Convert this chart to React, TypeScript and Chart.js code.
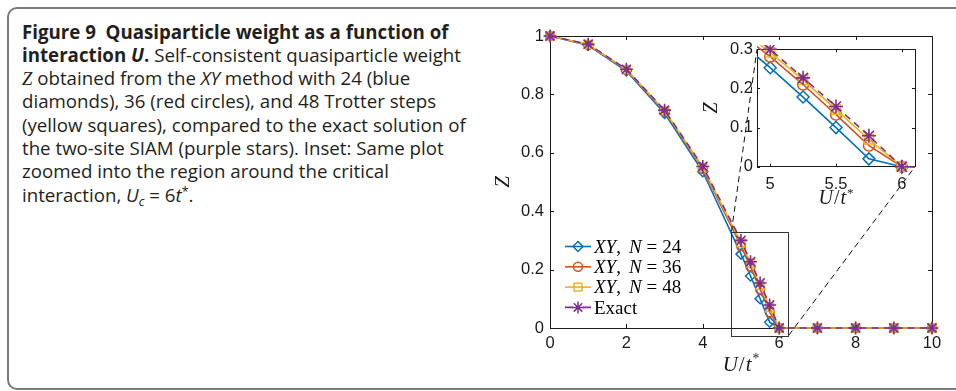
import React, { useEffect, useRef } from "react";
import { Chart, registerables } from "chart.js";
Chart.register(...registerables);

// ---------- data ----------
const U_VALUES = [0, 1, 2, 3, 4, 5, 5.25, 5.5, 5.75, 6, 7, 8, 9, 10];
const Z_N24 = [1, 0.968, 0.88, 0.735, 0.535, 0.253, 0.178, 0.1, 0.02, 0, 0, 0, 0, 0];
const Z_N36 = [1, 0.97, 0.884, 0.742, 0.545, 0.281, 0.21, 0.133, 0.054, 0, 0, 0, 0, 0];
const Z_N48 = [1, 0.971, 0.885, 0.744, 0.55, 0.292, 0.222, 0.146, 0.07, 0, 0, 0, 0, 0];
const Z_EXACT = [1, 0.972, 0.886, 0.746, 0.553, 0.3, 0.227, 0.154, 0.079, 0, 0, 0, 0, 0];

const MAIN_X_TICKS = [0, 2, 4, 6, 8, 10];
const MAIN_Y_TICKS = [0, 0.2, 0.4, 0.6, 0.8, 1];
const INSET_X_TICKS = [5, 5.5, 6];
const INSET_Y_TICKS = [0, 0.1, 0.2, 0.3];
const MAIN_X_RANGE = [0, 10];
const MAIN_Y_RANGE = [0, 1];
const INSET_X_RANGE = [4.9, 6.1];
const INSET_Y_RANGE = [0, 0.3];
const ZOOM_BOX_X = [4.75, 6.25];
const ZOOM_BOX_Y = [-0.025, 0.33];
const LEGEND_N = ["24", "36", "48"];
const LEGEND_EXACT = "Exact";

const BLUE = "#0072BD";
const ORANGE = "#D95319";
const YELLOW = "#EDB120";
const PURPLE = "#7E2F8E";
const AXIS = "#1a1a1a";

const SERIF = "'Liberation Serif', 'DejaVu Serif', serif";
const SANS = "'Liberation Sans', Arial, sans-serif";

// canvas placement
const MAIN_POS = { left: 480, top: 0, width: 476, height: 391 };
const INSET_POS = { left: 690, top: 30, width: 250, height: 190 };

type Seg = { t: string; i?: boolean; sup?: boolean; gap?: number };

function drawRich(ctx: CanvasRenderingContext2D, segs: Seg[], x: number, y: number, size: number, align: "left" | "center") {
  const fontOf = (s: Seg) => `${s.i ? "italic " : ""}${s.sup ? size * 0.65 : size}px ${SERIF}`;
  let total = 0;
  for (const s of segs) {
    ctx.font = fontOf(s);
    total += ctx.measureText(s.t).width + (s.gap || 0);
  }
  let cx = align === "center" ? x - total / 2 : x;
  const base = y + size * 0.33;
  ctx.textAlign = "left";
  ctx.textBaseline = "alphabetic";
  for (const s of segs) {
    ctx.font = fontOf(s);
    cx += s.gap || 0;
    ctx.fillText(s.t, cx, s.sup ? base - size * 0.38 : base);
    cx += ctx.measureText(s.t).width;
  }
}

const U_T_LABEL: Seg[] = [{ t: "U", i: true }, { t: "/", gap: 1 }, { t: "t", i: true, gap: 1 }, { t: "*", sup: true, gap: 1 }];

function framePlugin(tickLen: number, whiteBg: boolean, xTitleOffset: number, yTitleOffset: number, titleSize: number) {
  return {
    id: "frame",
    beforeDatasetsDraw(chart: any) {
      const { ctx, chartArea: a, scales } = chart;
      ctx.save();
      if (whiteBg) {
        ctx.fillStyle = "#ffffff";
        ctx.fillRect(a.left, a.top, a.right - a.left, a.bottom - a.top);
      }
      ctx.strokeStyle = AXIS;
      ctx.lineWidth = 1;
      ctx.strokeRect(Math.round(a.left) + 0.5, Math.round(a.top) + 0.5, Math.round(a.right - a.left), Math.round(a.bottom - a.top));
      ctx.beginPath();
      for (const t of scales.x.ticks) {
        const px = Math.round(scales.x.getPixelForValue(t.value)) + 0.5;
        ctx.moveTo(px, a.bottom);
        ctx.lineTo(px, a.bottom - tickLen);
        ctx.moveTo(px, a.top);
        ctx.lineTo(px, a.top + tickLen);
      }
      for (const t of scales.y.ticks) {
        const py = Math.round(scales.y.getPixelForValue(t.value)) + 0.5;
        ctx.moveTo(a.left, py);
        ctx.lineTo(a.left + tickLen, py);
        ctx.moveTo(a.right, py);
        ctx.lineTo(a.right - tickLen, py);
      }
      ctx.stroke();
      ctx.restore();
    },
    afterDraw(chart: any) {
      const { ctx, chartArea: a } = chart;
      ctx.save();
      ctx.fillStyle = AXIS;
      drawRich(ctx, U_T_LABEL, (a.left + a.right) / 2, a.bottom + xTitleOffset, titleSize, "center");
      ctx.translate(a.left - yTitleOffset, (a.top + a.bottom) / 2);
      ctx.rotate(-Math.PI / 2);
      drawRich(ctx, [{ t: "Z", i: true }], 0, 0, titleSize, "center");
      ctx.restore();
    },
  };
}

function makeDatasets(sizes: { d: number; c: number; s: number; st: number }, clip: any) {
  const mk = (vals: number[]) => U_VALUES.map((u, i) => ({ x: u, y: vals[i] }));
  return [
    {
      label: "N24", data: mk(Z_N24), borderColor: BLUE, backgroundColor: "rgba(0,0,0,0)",
      pointStyle: "rectRot", pointRadius: sizes.d, pointBorderColor: BLUE, pointBackgroundColor: "rgba(0,0,0,0)",
      pointBorderWidth: 1.5, borderWidth: 1.6, order: 4, clip,
    },
    {
      label: "N36", data: mk(Z_N36), borderColor: ORANGE, backgroundColor: "rgba(0,0,0,0)",
      pointStyle: "circle", pointRadius: sizes.c, pointBorderColor: ORANGE, pointBackgroundColor: "rgba(0,0,0,0)",
      pointBorderWidth: 1.5, borderWidth: 1.6, order: 3, clip,
    },
    {
      label: "N48", data: mk(Z_N48), borderColor: YELLOW, backgroundColor: "rgba(0,0,0,0)",
      pointStyle: "rect", pointRadius: sizes.s, pointBorderColor: YELLOW, pointBackgroundColor: "rgba(0,0,0,0)",
      pointBorderWidth: 1.5, borderWidth: 1.6, order: 2, clip,
    },
    {
      label: "Exact", data: mk(Z_EXACT), borderColor: PURPLE, backgroundColor: "rgba(0,0,0,0)",
      pointStyle: "star", pointRadius: sizes.st, pointBorderColor: PURPLE, pointBackgroundColor: PURPLE,
      pointBorderWidth: 1.6, borderWidth: 1.6, borderDash: [7, 5], order: 1, clip,
    },
  ];
}

function scaleOpts(range: number[], ticks: number[], fit: (s: any) => void, padding: number) {
  return {
    type: "linear" as const,
    min: range[0],
    max: range[1],
    grid: { display: false, drawTicks: false },
    border: { display: false },
    afterBuildTicks: (s: any) => { s.ticks = ticks.map((v) => ({ value: v })); },
    afterFit: fit,
    ticks: {
      color: AXIS, font: { family: SANS, size: 16.5 }, padding, maxRotation: 0, autoSkip: false,
      callback: (v: any) => String(Number(Number(v).toFixed(3))),
    },
  };
}

const legendPlugin = {
  id: "customLegend",
  afterDatasetsDraw(chart: any) {
    const { ctx, chartArea: a } = chart;
    const x0 = a.left + 15;
    const x1 = a.left + 41;
    const xm = (x0 + x1) / 2;
    const rows = [
      { c: BLUE, st: "rectRot", r: 5 },
      { c: ORANGE, st: "circle", r: 4.5 },
      { c: YELLOW, st: "rect", r: 5.5 },
      { c: PURPLE, st: "star", r: 6 },
    ];
    ctx.save();
    rows.forEach((row, i) => {
      const y = a.bottom - 81.5 + i * 20.3;
      ctx.strokeStyle = row.c;
      ctx.lineWidth = 1.6;
      ctx.beginPath();
      if (i < 3) {
        ctx.moveTo(x0, y);
        ctx.lineTo(x1, y);
      } else {
        ctx.moveTo(x0, y);
        ctx.lineTo(x0 + 8, y);
        ctx.moveTo(x1 - 8, y);
        ctx.lineTo(x1, y);
      }
      ctx.stroke();
      ctx.lineWidth = 1.5;
      drawMarker(ctx, row.st, row.r, xm, y);
      ctx.fillStyle = "#000";
      const segs: Seg[] = i < 3
        ? [{ t: "XY", i: true }, { t: "," }, { t: "N", i: true, gap: 8 }, { t: "=", gap: 5 }, { t: LEGEND_N[i], gap: 5 }]
        : [{ t: LEGEND_EXACT }];
      drawRich(ctx, segs, x1 + 3, y, 19, "left");
    });
    ctx.restore();
  },
};

function drawMarker(ctx: CanvasRenderingContext2D, style: string, r: number, x: number, y: number) {
  ctx.beginPath();
  if (style === "circle") {
    ctx.arc(x, y, r, 0, Math.PI * 2);
  } else if (style === "rect") {
    const h = r * Math.SQRT1_2;
    ctx.rect(x - h, y - h, 2 * h, 2 * h);
  } else if (style === "rectRot") {
    ctx.moveTo(x, y - r);
    ctx.lineTo(x + r, y);
    ctx.lineTo(x, y + r);
    ctx.lineTo(x - r, y);
    ctx.closePath();
  } else if (style === "star") {
    for (let k = 0; k < 4; k++) {
      const ang = (k * Math.PI) / 4;
      ctx.moveTo(x + Math.cos(ang) * r, y + Math.sin(ang) * r);
      ctx.lineTo(x - Math.cos(ang) * r, y - Math.sin(ang) * r);
    }
  }
  ctx.stroke();
}

export default function App() {
  const mainRef = useRef<HTMLCanvasElement>(null);
  const insetRef = useRef<HTMLCanvasElement>(null);

  useEffect(() => {
    const inset = new Chart(insetRef.current as HTMLCanvasElement, {
      type: "line",
      data: { datasets: makeDatasets({ d: 6, c: 5.5, s: 6.5, st: 7 }, { left: 0, right: 0, top: 4, bottom: 8 }) as any },
      options: {
        responsive: false,
        animation: false,
        layout: { padding: { left: 0, right: 25, top: 19.3, bottom: 0 } },
        plugins: { legend: { display: false }, tooltip: { enabled: false } },
        scales: {
          x: scaleOpts(INSET_X_RANGE, INSET_X_TICKS, (s: any) => { s.height = 53.3; }, 8),
          y: scaleOpts(INSET_Y_RANGE, INSET_Y_TICKS, (s: any) => { s.width = 67; }, 4),
        },
      } as any,
      plugins: [framePlugin(3, true, 31, 47, 20)],
    });

    const connectorPlugin = {
      id: "connector",
      afterDatasetsDraw(chart: any) {
        const { ctx, scales } = chart;
        const ia = inset.chartArea;
        const dx = INSET_POS.left - MAIN_POS.left;
        const dy = INSET_POS.top - MAIN_POS.top;
        const bx0 = scales.x.getPixelForValue(ZOOM_BOX_X[0]);
        const bx1 = scales.x.getPixelForValue(ZOOM_BOX_X[1]);
        const by0 = scales.y.getPixelForValue(ZOOM_BOX_Y[0]);
        const by1 = scales.y.getPixelForValue(ZOOM_BOX_Y[1]);
        ctx.save();
        ctx.strokeStyle = "#333";
        ctx.lineWidth = 1;
        ctx.strokeRect(Math.round(bx0) + 0.5, Math.round(by1) + 0.5, Math.round(bx1 - bx0), Math.round(by0 - by1));
        ctx.strokeStyle = "#111";
        ctx.setLineDash([6, 4]);
        ctx.beginPath();
        ctx.moveTo(bx0, by1);
        ctx.lineTo(ia.left + dx, ia.top + dy);
        ctx.moveTo(bx1, by0);
        ctx.lineTo(ia.right + dx, ia.bottom + dy);
        ctx.stroke();
        ctx.restore();
      },
    };

    const main = new Chart(mainRef.current as HTMLCanvasElement, {
      type: "line",
      data: { datasets: makeDatasets({ d: 5, c: 4.5, s: 5.5, st: 6.5 }, false) as any },
      options: {
        responsive: false,
        animation: false,
        layout: { padding: { left: 0, right: 24, top: 36, bottom: 0 } },
        plugins: { legend: { display: false }, tooltip: { enabled: false } },
        scales: {
          x: scaleOpts(MAIN_X_RANGE, MAIN_X_TICKS, (s: any) => { s.height = 63; }, 6),
          y: scaleOpts(MAIN_Y_RANGE, MAIN_Y_TICKS, (s: any) => { s.width = 70; }, 6),
        },
      } as any,
      plugins: [framePlugin(4, false, 36, 48, 21), connectorPlugin, legendPlugin],
    });

    return () => {
      main.destroy();
      inset.destroy();
    };
  }, []);

  const line = { whiteSpace: "nowrap" as const, height: 23.3 };
  const small = { fontSize: 12.5, lineHeight: 0, position: "relative" as const };
  return (
    <div style={{ position: "absolute", left: 0, top: 0, width: 956, height: 391, overflow: "hidden", background: "#fff" }}>
      <div
        style={{
          position: "absolute", left: 7, top: 7, width: 980, height: 383, boxSizing: "border-box",
          border: "2px solid #7a7a7a", borderRadius: 10,
        }}
      />
      <div
        style={{
          position: "absolute", left: 22, top: 19.5, fontFamily: "'Open Sans', sans-serif", fontSize: 18.7,
          lineHeight: "23.3px", color: "#231f20",
        }}
      >
        <div style={line}><b>Figure 9&nbsp; Quasiparticle weight as a function of</b></div>
        <div style={line}><b>interaction <i>U</i>.</b> Self-consistent quasiparticle weight</div>
        <div style={line}><i style={{ fontFamily: SERIF }}>Z</i> obtained from the <i>XY</i> method with 24 (blue</div>
        <div style={line}>diamonds), 36 (red circles), and 48 Trotter steps</div>
        <div style={line}>(yellow squares), compared to the exact solution of</div>
        <div style={line}>the two-site SIAM (purple stars). Inset: Same plot</div>
        <div style={line}>zoomed into the region around the critical</div>
        <div style={line}>
          interaction, <i>U</i><i style={{ ...small, top: 4 }}>c</i> = 6<i>t</i><span style={{ ...small, top: -6 }}>*</span>.
        </div>
      </div>
      <canvas
        ref={mainRef}
        width={MAIN_POS.width}
        height={MAIN_POS.height}
        style={{ position: "absolute", left: MAIN_POS.left, top: MAIN_POS.top, width: MAIN_POS.width, height: MAIN_POS.height }}
      />
      <canvas
        ref={insetRef}
        width={INSET_POS.width}
        height={INSET_POS.height}
        style={{ position: "absolute", left: INSET_POS.left, top: INSET_POS.top, width: INSET_POS.width, height: INSET_POS.height }}
      />
    </div>
  );
}
